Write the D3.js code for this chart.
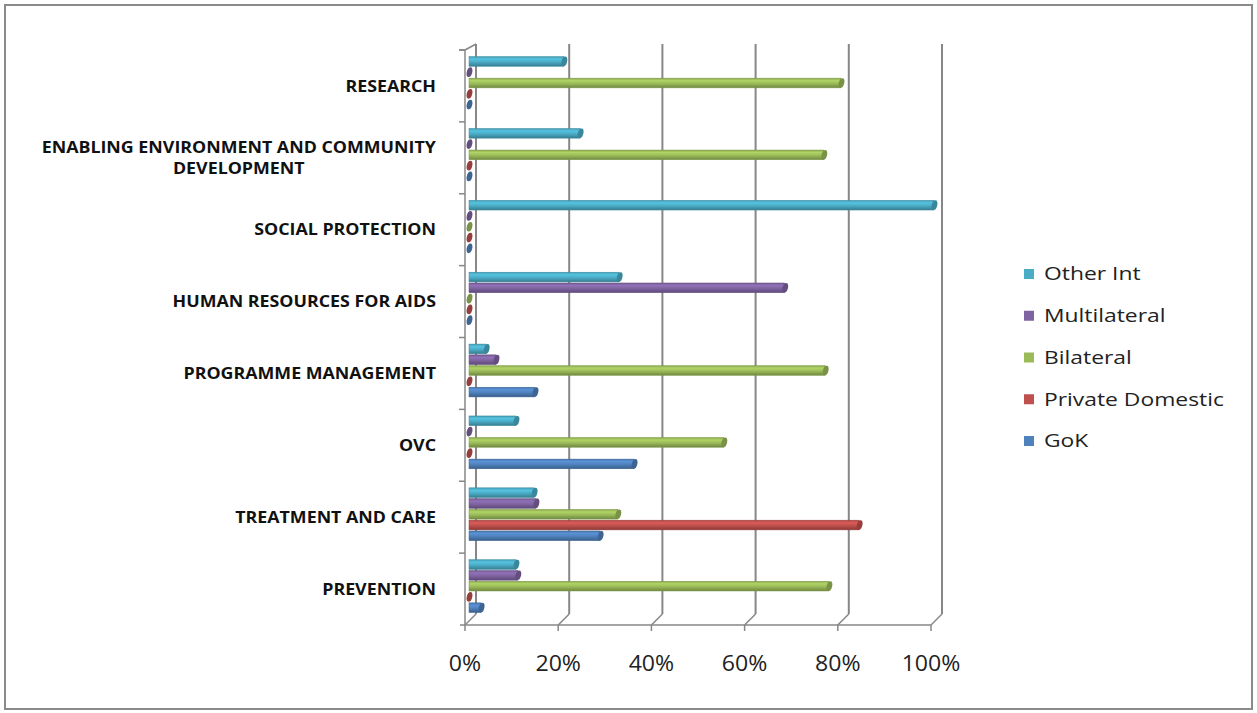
<!DOCTYPE html>
<html>
<head>
<meta charset="utf-8">
<script src="https://cdn.jsdelivr.net/npm/d3@7"></script>
<style>
  html, body { margin: 0; padding: 0; background: #fff; }
  svg { display: block; }
</style>
</head>
<body>
<svg id="chart" width="1257" height="713"></svg>
<script>
// ---------------- DATA ----------------
const categories = [
  "PREVENTION",
  "TREATMENT AND CARE",
  "OVC",
  "PROGRAMME MANAGEMENT",
  "HUMAN RESOURCES FOR AIDS",
  "SOCIAL PROTECTION",
  "ENABLING ENVIRONMENT AND COMMUNITY DEVELOPMENT",
  "RESEARCH"
];
const categoryLines = [
  ["PREVENTION"],
  ["TREATMENT AND CARE"],
  ["OVC"],
  ["PROGRAMME MANAGEMENT"],
  ["HUMAN RESOURCES FOR AIDS"],
  ["SOCIAL PROTECTION"],
  ["ENABLING ENVIRONMENT AND COMMUNITY", "DEVELOPMENT"],
  ["RESEARCH"]
];
const seriesNames = ["Other Int", "Multilateral", "Bilateral", "Private Domestic", "GoK"];
const seriesColors = ["#4BACC6", "#8064A2", "#9BBB59", "#C0504D", "#4F81BD"];
const otherInt     = [10.1, 14.0, 10.1, 3.7, 32.3, 100, 23.9, 20.4];
const multilateral = [10.5, 14.4, 0, 5.8, 67.9, 0, 0, 0];
const bilateral    = [77.4, 32.0, 54.8, 76.6, 0, 0, 76.3, 80.0];
const privateDom   = [0, 83.9, 0, 0, 0, 0, 0, 0];
const gok          = [2.6, 28.2, 35.5, 14.2, 0, 0, 0, 0];
const seriesValues = [otherInt, multilateral, bilateral, privateDom, gok];
const tickValues = [0, 20, 40, 60, 80, 100];
const tickLabels = ["0%", "20%", "40%", "60%", "80%", "100%"];

// ---------------- LAYOUT ----------------
const svg = d3.select("#chart");
const W = 1257, H = 713;
const depth = { dx: 11, dy: -11 };
const plotTop = 50, plotBottom = 625;
const xFront = d3.scaleLinear().domain([0, 100]).range([465, 931]);
const xBar   = d3.scaleLinear().domain([0, 100]).range([469, 934]);
const yCat = d3.scaleBand().domain(categories).range([plotBottom, plotTop]);
const ySer = d3.scaleBand().domain(seriesNames).range([5.5, 60.5]).padding(0.1);

// Outer border
svg.append("rect")
  .attr("x", 5).attr("y", 5).attr("width", W - 10).attr("height", H - 9)
  .attr("fill", "#fff").attr("stroke", "#8a8a8a").attr("stroke-width", 2);

const gridColor = "#878787";
const grid = svg.append("g");

tickValues.forEach(v => {
  const fx = xFront(v), bx = fx + depth.dx;
  grid.append("line")
    .attr("x1", bx).attr("x2", bx)
    .attr("y1", plotTop + depth.dy + 5).attr("y2", plotBottom + depth.dy)
    .attr("stroke", gridColor).attr("stroke-width", 2);
  grid.append("line")
    .attr("x1", fx).attr("y1", plotBottom)
    .attr("x2", bx).attr("y2", plotBottom + depth.dy)
    .attr("stroke", gridColor).attr("stroke-width", 1.5);
});

grid.append("line")
  .attr("x1", xFront(0) - 5).attr("x2", xFront(100))
  .attr("y1", plotBottom).attr("y2", plotBottom)
  .attr("stroke", gridColor).attr("stroke-width", 1.5);
tickValues.forEach(v => {
  grid.append("line")
    .attr("x1", xFront(v)).attr("x2", xFront(v))
    .attr("y1", plotBottom).attr("y2", plotBottom + 6)
    .attr("stroke", gridColor).attr("stroke-width", 1.5);
});

grid.append("line")
  .attr("x1", xFront(0)).attr("x2", xFront(0))
  .attr("y1", plotTop).attr("y2", plotBottom)
  .attr("stroke", gridColor).attr("stroke-width", 1.5);
grid.append("line")
  .attr("x1", xFront(0)).attr("y1", plotTop)
  .attr("x2", xFront(0) + depth.dx).attr("y2", plotTop + depth.dy + 5)
  .attr("stroke", gridColor).attr("stroke-width", 1.5);
const catTicks = categories.map(c => yCat(c)).concat([plotTop]);
catTicks.forEach(y => {
  grid.append("line")
    .attr("x1", xFront(0) - 6).attr("x2", xFront(0))
    .attr("y1", y).attr("y2", y)
    .attr("stroke", gridColor).attr("stroke-width", 1.5);
});

// Gradients for cylinders
const defs = svg.append("defs");
seriesColors.forEach((c, i) => {
  const base = d3.color(c);
  const g = defs.append("linearGradient")
    .attr("id", "grad" + i).attr("x1", 0).attr("y1", 0).attr("x2", 0).attr("y2", 1);
  g.append("stop").attr("offset", "0%").attr("stop-color", base.darker(0.3));
  g.append("stop").attr("offset", "25%").attr("stop-color", base.brighter(0.35));
  g.append("stop").attr("offset", "55%").attr("stop-color", base);
  g.append("stop").attr("offset", "100%").attr("stop-color", base.darker(0.9));
});

// Bars
const bars = svg.append("g");
const skew = Math.tan(12 * Math.PI / 180);
categories.forEach((cat, ci) => {
  seriesNames.forEach((s, si) => {
    const v = seriesValues[si][ci];
    const h = ySer.bandwidth();
    const y = yCat(cat) + ySer(s);
    const x0 = xBar(0), x1 = xBar(v);
    const col = d3.color(seriesColors[si]);
    if (x1 - x0 > 0.5) {
      bars.append("rect")
        .attr("x", x0).attr("y", y)
        .attr("width", x1 - x0).attr("height", h)
        .attr("fill", `url(#grad${si})`)
        .attr("stroke", col.darker(0.6)).attr("stroke-width", 0.5);
    }
    bars.append("ellipse")
      .attr("cx", x1 + 0.5).attr("cy", y + h / 2)
      .attr("rx", 2.8).attr("ry", h / 2)
      .attr("fill", col.darker(0.7))
      .attr("transform", `translate(${(y + h / 2) * skew},0) skewX(-12)`);
  });
});

// helper: horizontally stretched text
function stretchedText(g, x, y, str, sx, anchor) {
  return g.append("text")
    .attr("transform", `translate(${x},${y}) scale(${sx},1)`)
    .attr("dy", "0.36em").attr("text-anchor", anchor).text(str);
}

const labelFont = "'Open Sans', 'DejaVu Sans', sans-serif";

// Category labels
const lab = svg.append("g")
  .attr("font-family", labelFont).attr("font-size", 15.5).attr("font-weight", 700)
  .attr("fill", "#111");
const labSX = 1.15;
categories.forEach((cat, ci) => {
  const lines = categoryLines[ci];
  const cy = yCat(cat) + yCat.bandwidth() / 2;
  const lh = 21;
  if (lines.length === 1) {
    stretchedText(lab, 436, cy, lines[0], labSX, "end");
  } else {
    const tmp = lab.append("text").text(lines[0]);
    const w = tmp.node().getComputedTextLength() * labSX;
    tmp.remove();
    const cx = 436 - w / 2;
    lines.forEach((ln, li) => {
      stretchedText(lab, cx, cy + (li - (lines.length - 1) / 2) * lh, ln, labSX, "middle");
    });
  }
});

// X tick labels
const tl = svg.append("g")
  .attr("font-family", labelFont).attr("font-size", 21).attr("fill", "#222");
tickValues.forEach((v, i) => {
  stretchedText(tl, xFront(v), 663, tickLabels[i], 1.1, "middle");
});

// Legend
const lg = svg.append("g")
  .attr("font-family", labelFont).attr("font-size", 18).attr("fill", "#222");
const legendY = d3.scalePoint().domain(seriesNames).range([274, 441]);
seriesNames.forEach((s, i) => {
  const y = legendY(s);
  lg.append("rect").attr("x", 1024).attr("y", y - 5).attr("width", 10).attr("height", 10)
    .attr("fill", seriesColors[i]);
  stretchedText(lg, 1044, y, s, 1.27, "start");
});
</script>
</body>
</html>
